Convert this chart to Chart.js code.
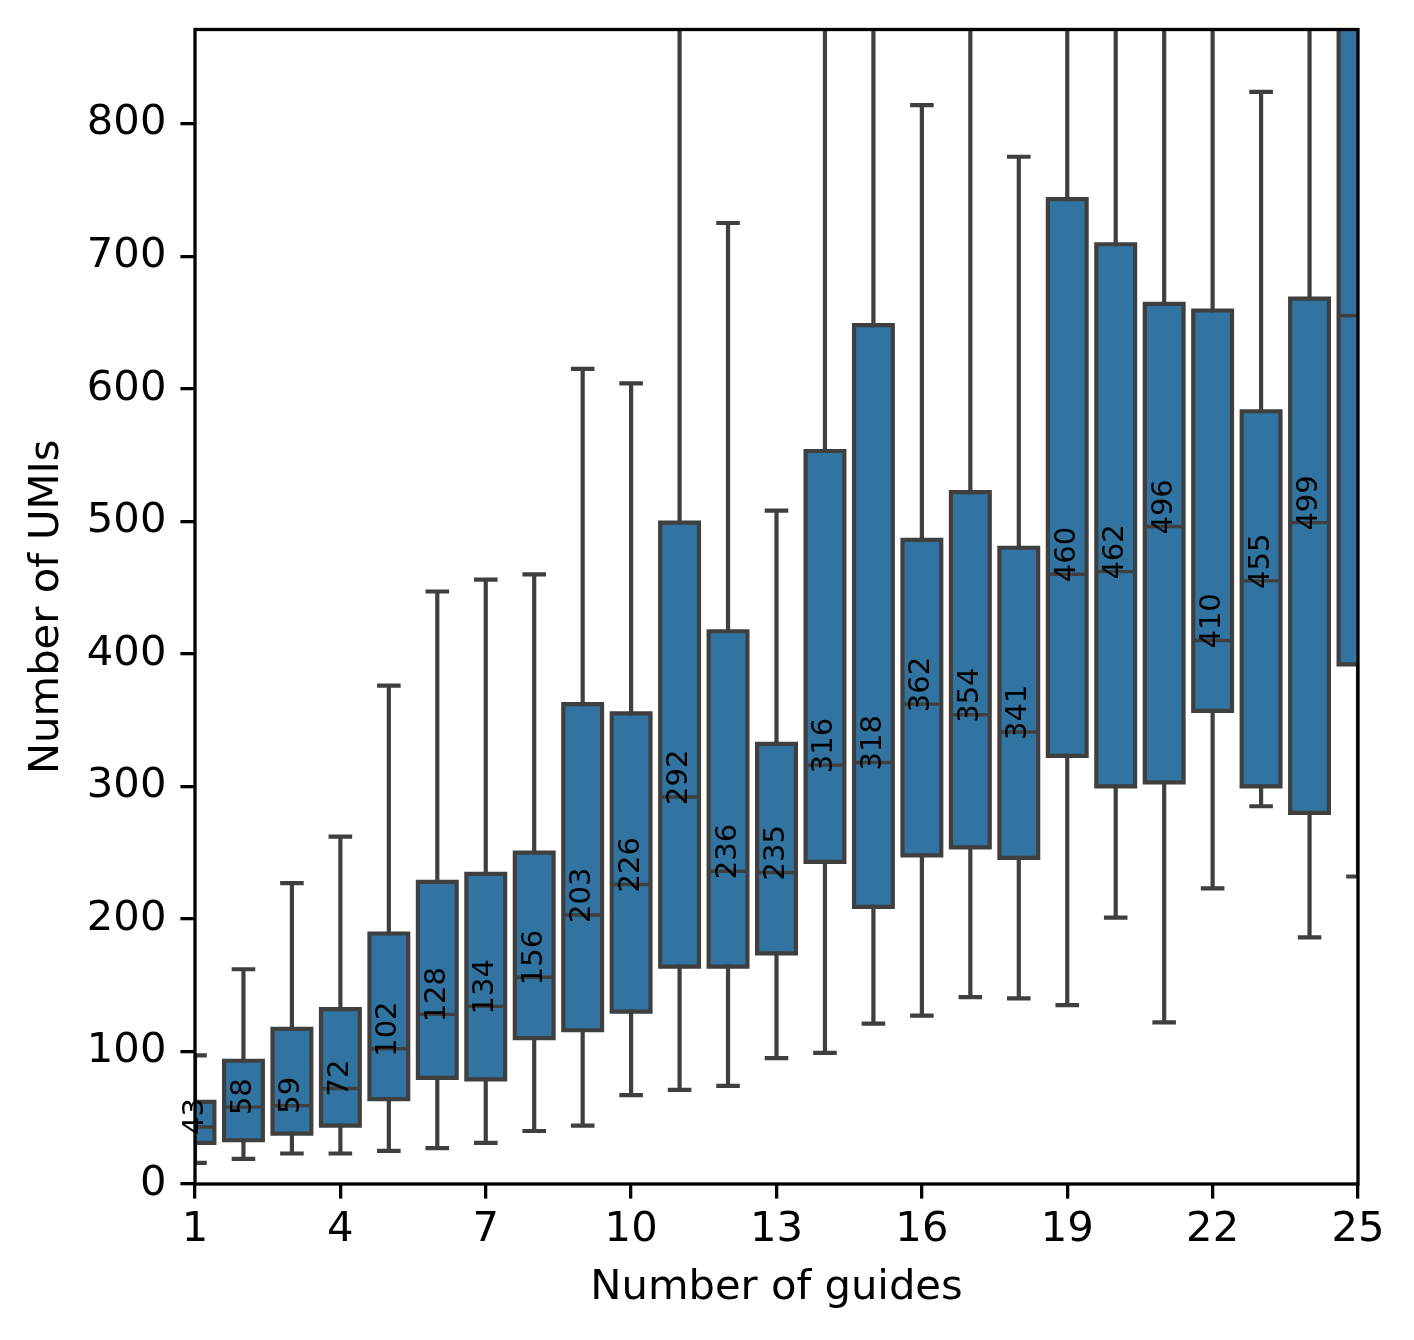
<!DOCTYPE html>
<html>
<head>
<meta charset="utf-8">
<title>Number of UMIs by number of guides</title>
<script src="https://cdn.jsdelivr.net/npm/chart.js@4.4.1/dist/chart.umd.min.js"></script>
<style>
    html, body { margin: 0; padding: 0; background: #ffffff; }
    #wrap { width: 1414px; height: 1340px; position: relative; }
</style>
</head>
<body>
<div id="wrap"><canvas id="boxChart"></canvas></div>
<script>
/* ---- Data ---- */
const guides = [1, 2, 3, 4, 5, 6, 7, 8, 9, 10, 11, 12, 13, 14, 15, 16, 17, 18, 19, 20, 21, 22, 23, 24, 25];
const whiskerLow = [16, 19, 23, 23, 25, 27, 31, 40, 44, 67, 71, 74, 95, 99, 121, 127, 141, 140, 135, 201, 122, 223, 285, 186, 232];
const q1 = [31, 33, 38, 44, 64, 80, 79, 110, 116, 130, 164, 164, 174, 243, 209, 248, 254, 246, 323, 300, 303, 357, 300, 280, 392];
const medians = [43, 58, 59, 72, 102, 128, 134, 156, 203, 226, 292, 236, 235, 316, 318, 362, 354, 341, 460, 462, 496, 410, 455, 499, 655];
const q3 = [62, 93, 117, 132, 189, 228, 234, 250, 362, 355, 499, 417, 332, 553, 648, 486, 522, 480, 743, 709, 664, 659, 583, 668, 940];
// whiskers above the top of the axes are estimates (they run off the plot)
const whiskerHigh = [97, 162, 227, 262, 376, 447, 456, 460, 615, 604, 960, 725, 508, 1010, 1050, 814, 990, 775, 1150, 1080, 1100, 1000, 824, 1120, 1400];
const medianLabels = ['43', '58', '59', '72', '102', '128', '134', '156', '203', '226', '292', '236', '235',
                      '316', '318', '362', '354', '341', '460', '462', '496', '410', '455', '499', ''];
const xTicks = [1, 4, 7, 10, 13, 16, 19, 22, 25];
const yTicks = [0, 100, 200, 300, 400, 500, 600, 700, 800];

const BOX_FILL = '#3274a1';
const LINE = '#3f3f3f';
const FONT = "'DejaVu Sans', sans-serif";
const TICK_SIZE = 41.7;
const SPINE_W = 3.3;   // axes frame and tick marks
const BOX_W = 4.2;     // box outline, whiskers, caps
const MED_W = 3.4;     // median line

/* ---- Box outlines, whiskers, medians, labels and the axes frame ---- */
const boxExtras = {
    id: 'boxExtras',
    afterDatasetsDraw(chart) {
        const { ctx, chartArea: a, scales: { x, y } } = chart;
        const meta = chart.getDatasetMeta(0);
        const capHalf = (x.getPixelForValue(2) - x.getPixelForValue(1)) * 0.2;

        ctx.save();
        ctx.beginPath();
        ctx.rect(a.left, a.top, a.right - a.left, a.bottom - a.top);
        ctx.clip();
        ctx.strokeStyle = LINE;
        guides.forEach((g, i) => {
            const bar = meta.data[i];
            const cx = bar.x;
            const half = bar.width / 2;
            const yLo = y.getPixelForValue(whiskerLow[i]);
            const yHi = y.getPixelForValue(whiskerHigh[i]);
            const yQ1 = y.getPixelForValue(q1[i]);
            const yQ3 = y.getPixelForValue(q3[i]);
            const yMed = y.getPixelForValue(medians[i]);

            // whiskers and caps
            ctx.lineWidth = BOX_W;
            ctx.lineCap = 'square';
            ctx.beginPath();
            ctx.moveTo(cx, yQ1); ctx.lineTo(cx, yLo);
            ctx.moveTo(cx, yQ3); ctx.lineTo(cx, yHi);
            ctx.moveTo(cx - capHalf, yLo); ctx.lineTo(cx + capHalf, yLo);
            ctx.moveTo(cx - capHalf, yHi); ctx.lineTo(cx + capHalf, yHi);
            ctx.stroke();

            // box outline, stroked on the box edge
            ctx.beginPath();
            ctx.rect(cx - half, yQ3, half * 2, yQ1 - yQ3);
            ctx.stroke();

            // median
            ctx.lineWidth = MED_W;
            ctx.lineCap = 'butt';
            ctx.beginPath();
            ctx.moveTo(cx - half, yMed); ctx.lineTo(cx + half, yMed);
            ctx.stroke();
        });
        ctx.restore();

        // frame (all four spines)
        ctx.save();
        ctx.strokeStyle = '#000000';
        ctx.lineWidth = SPINE_W;
        ctx.strokeRect(a.left, a.top, a.right - a.left, a.bottom - a.top);
        ctx.restore();

        // median value labels, rotated
        ctx.save();
        ctx.fillStyle = '#000000';
        ctx.font = '29px ' + FONT;
        ctx.textAlign = 'left';
        ctx.textBaseline = 'middle';
        guides.forEach((g, i) => {
            if (!medianLabels[i]) return;
            ctx.save();
            ctx.translate(x.getPixelForValue(g), y.getPixelForValue(medians[i]) + 8);
            ctx.rotate(-Math.PI / 2);
            ctx.fillText(medianLabels[i], 0, 0);
            ctx.restore();
        });
        ctx.restore();
    }
};

const axisGrid = {
    display: true,
    drawOnChartArea: false,
    offset: false,
    color: '#000000',
    tickColor: '#000000',
    lineWidth: SPINE_W,
    tickLength: 14.6,
};

new Chart(document.getElementById('boxChart'), {
    type: 'bar',
    data: {
        datasets: [{
            label: 'UMIs',
            data: guides.map((g, i) => ({ x: g, y: [q1[i], q3[i]] })),
            backgroundColor: BOX_FILL,
            borderWidth: 0,
            categoryPercentage: 1,
            barPercentage: 0.8,
            clip: 0,
        }]
    },
    options: {
        responsive: true,
        maintainAspectRatio: false,
        animation: false,
        layout: { padding: { top: 29.5, right: 56, bottom: 0, left: 0 } },
        plugins: {
            legend: { display: false },
            tooltip: { enabled: false },
        },
        scales: {
            x: {
                type: 'linear',
                min: 1,
                max: 25,
                offset: false,
                afterBuildTicks: s => { s.ticks = xTicks.map(v => ({ value: v })); },
                afterFit: s => { s.height = 156; },
                grid: axisGrid,
                border: { display: false },
                ticks: {
                    color: '#000000',
                    font: { family: FONT, size: TICK_SIZE },
                    padding: 7,
                    maxRotation: 0,
                    autoSkip: false,
                },
                title: {
                    display: true,
                    text: 'Number of guides',
                    color: '#000000',
                    font: { family: FONT, size: TICK_SIZE },
                    padding: { top: 0, bottom: 26.7 },
                },
            },
            y: {
                type: 'linear',
                min: 0,
                max: 871,
                afterBuildTicks: s => { s.ticks = yTicks.map(v => ({ value: v })); },
                afterFit: s => {
                    s.width = 195;
                    // top tick (800) is well inside the plot, so no label overflow room is needed
                    s.paddingTop = 0;
                    s.paddingBottom = 0;
                },
                grid: axisGrid,
                border: { display: false },
                ticks: {
                    color: '#000000',
                    font: { family: FONT, size: TICK_SIZE },
                    padding: 14,
                },
                title: {
                    display: true,
                    text: 'Number of UMIs',
                    color: '#000000',
                    font: { family: FONT, size: TICK_SIZE },
                    padding: { top: 22, bottom: 0 },
                },
            }
        }
    },
    plugins: [boxExtras]
});
</script>
</body>
</html>
